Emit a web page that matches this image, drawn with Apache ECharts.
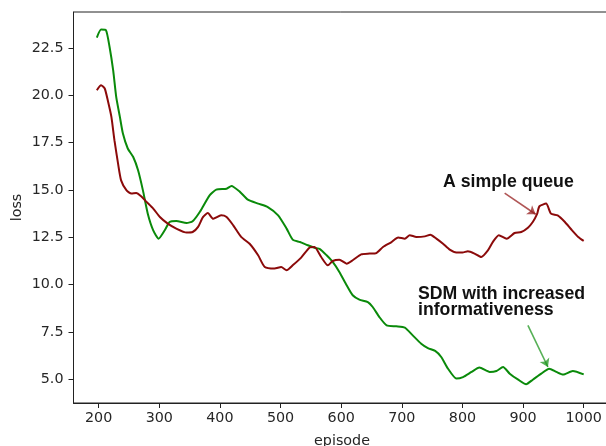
<!DOCTYPE html>
<html><head><meta charset="utf-8">
<script src="https://cdn.jsdelivr.net/npm/echarts@6/dist/echarts.min.js"></script>
<style>html,body{margin:0;padding:0;background:#fff}#c{width:606px;height:446px}</style>
</head><body><div id="c"></div>
<script>
const xTicks = [200, 300, 400, 500, 600, 700, 800, 900, 1000];
const yTicks = [5.0, 7.5, 10.0, 12.5, 15.0, 17.5, 20.0, 22.5];

const queueEpisodes = [197,204,210,215,221,226,232,237,246,254,262,270,279,290,301,314,328,345,355,364,372,380,389,402,411,422,435,449,463,474,490,501,510,520,534,548,556,567,578,586,597,609,619,633,647,658,669,683,694,705,713,724,738,747,757,768,779,790,800,809,820,831,842,850,860,873,886,897,908,916,923,927,938,946,957,969,980,991,1000];
const queueLoss = [20.27,20.53,20.36,19.74,18.86,17.63,16.39,15.51,14.98,14.81,14.84,14.67,14.37,14.02,13.57,13.22,12.96,12.75,12.78,13.05,13.57,13.78,13.48,13.66,13.57,13.13,12.52,12.16,11.55,10.93,10.85,10.93,10.76,11.02,11.43,11.96,11.99,11.46,11.02,11.25,11.32,11.11,11.29,11.6,11.64,11.67,11.99,12.25,12.49,12.43,12.61,12.52,12.55,12.64,12.43,12.16,11.85,11.7,11.7,11.76,11.64,11.46,11.81,12.25,12.61,12.43,12.73,12.78,13.01,13.31,13.72,14.14,14.28,13.75,13.66,13.31,12.9,12.52,12.31];

const sdmEpisodes = [197,204,212,218,224,229,235,240,248,257,265,273,281,290,299,309,317,328,345,355,367,383,394,411,419,433,446,463,479,496,510,520,532,545,556,565,576,586,597,609,619,630,644,652,663,675,691,705,718,732,743,755,765,776,790,801,815,828,845,856,867,878,892,905,916,930,943,955,966,982,1000];
const sdmLoss = [23.05,23.47,23.44,22.55,21.3,19.9,18.86,17.98,17.19,16.74,16.04,14.98,13.75,12.87,12.43,12.87,13.31,13.36,13.26,13.35,13.85,14.72,15.02,15.07,15.21,14.9,14.49,14.28,14.1,13.66,12.96,12.38,12.25,12.08,11.95,11.88,11.55,11.2,10.67,9.97,9.44,9.21,9.08,8.82,8.29,7.85,7.8,7.73,7.32,6.88,6.65,6.5,6.18,5.57,5.04,5.12,5.39,5.62,5.39,5.44,5.65,5.3,4.98,4.74,4.98,5.3,5.56,5.39,5.25,5.44,5.26];

const zip = (xs, ys) => xs.map((x, i) => [x, ys[i]]);
const tickFont = {fontFamily: 'DejaVu Sans', fontSize: 14.3, color: '#262626'};

const chart = echarts.init(document.getElementById('c'), null, {renderer: 'canvas'});
chart.setOption({
  animation: false,
  backgroundColor: '#fff',
  grid: {left: 73.5, top: 12, width: 537, height: 391, show: true, borderColor: '#222', borderWidth: 1, backgroundColor: 'transparent', containLabel: false, outerBoundsMode: 'none'},
  xAxis: {
    type: 'value', min: 158.5, max: 1044.2,
    name: 'episode', nameLocation: 'middle', nameGap: 31,
    nameTextStyle: {fontFamily: 'DejaVu Sans', fontSize: 14.3, color: '#262626'},
    axisLine: {show: true, lineStyle: {color: '#222', width: 1}},
    axisTick: {show: true, length: 5, lineStyle: {color: '#222'}, customValues: xTicks},
    axisLabel: Object.assign({margin: 8, customValues: xTicks, formatter: v => String(v)}, tickFont),
    splitLine: {show: false}
  },
  yAxis: {
    type: 'value', min: 3.75, max: 24.4,
    name: 'loss', nameLocation: 'middle', nameGap: 49, nameRotate: 90, nameMoveOverlap: false,
    nameTextStyle: {fontFamily: 'DejaVu Sans', fontSize: 14.3, color: '#262626'},
    axisLine: {show: true, lineStyle: {color: '#222', width: 1}},
    axisTick: {show: true, length: 5, lineStyle: {color: '#222'}, customValues: yTicks},
    axisLabel: Object.assign({margin: 10, customValues: yTicks, formatter: v => v.toFixed(1)}, tickFont),
    splitLine: {show: false}
  },
  series: [
    {
      name: 'A simple queue', type: 'line', data: zip(queueEpisodes, queueLoss),
      showSymbol: false, smooth: 0.2, lineStyle: {color: '#8b0a0a', width: 2}, z: 3,
      markLine: {
        silent: true, symbol: ['none', 'arrow'], symbolSize: 8,
        lineStyle: {color: 'rgba(150,30,30,0.75)', width: 1.6, type: 'solid'}, label: {show: false},
        data: [[{coord: [869.6, 14.83]}, {coord: [920.8, 13.72]}]]
      }
    },
    {
      name: 'SDM with increased informativeness', type: 'line', data: zip(sdmEpisodes, sdmLoss),
      showSymbol: false, smooth: 0.2, lineStyle: {color: '#0a8a0a', width: 2}, z: 2,
      markLine: {
        silent: true, symbol: ['none', 'arrow'], symbolSize: 8,
        lineStyle: {color: 'rgba(30,150,30,0.75)', width: 1.6, type: 'solid'}, label: {show: false},
        data: [[{coord: [908, 7.85]}, {coord: [941, 5.65]}]]
      }
    }
  ],
  graphic: [
    {type: 'text', left: 443, top: 173, style: {text: 'A simple queue', fontFamily: 'Liberation Sans', fontWeight: 'bold', fontSize: 17.7, fill: '#111'}},
    {type: 'text', left: 418, top: 285.5, style: {text: 'SDM with increased\ninformativeness', fontFamily: 'Liberation Sans', fontWeight: 'bold', fontSize: 17.7, lineHeight: 15.7, fill: '#111'}}
  ]
});
</script></body></html>
